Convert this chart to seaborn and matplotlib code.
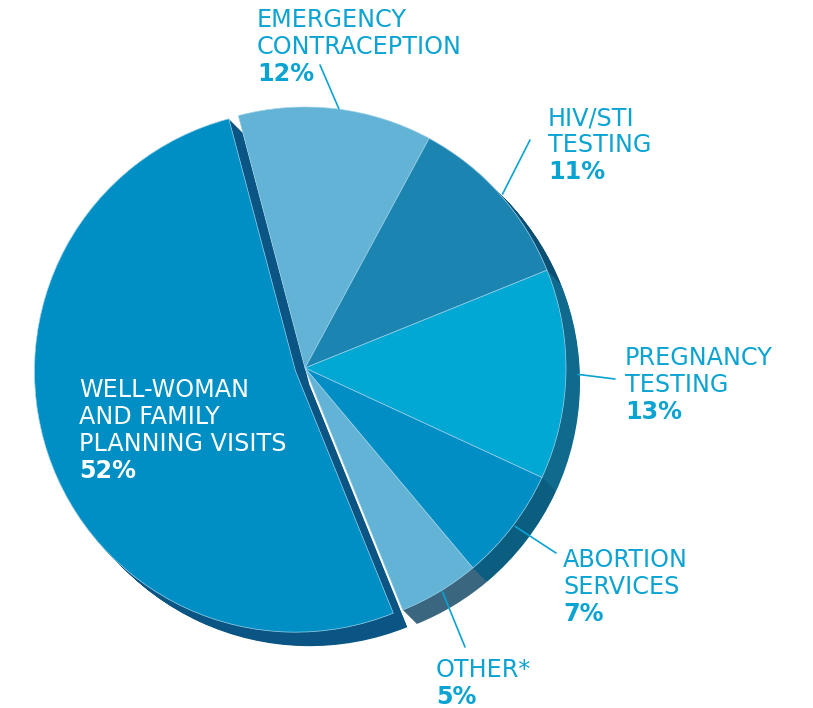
import numpy as np
import matplotlib
matplotlib.use("Agg")
import matplotlib.pyplot as plt
import seaborn as sns

# data (clockwise from the top, well-woman last)
labels = ["EMERGENCY\nCONTRACEPTION", "HIV/STI\nTESTING", "PREGNANCY\nTESTING",
          "ABORTION\nSERVICES", "OTHER*", "WELL-WOMAN\nAND FAMILY\nPLANNING VISITS"]
values = [12, 11, 13, 7, 5, 52]

face_colors = ["#62b3d6", "#1b84b0", "#00a8d3", "#008ec4", "#62b3d6", "#008fc5"]
side_colors = ["#1d6f96", "#0b4f75", "#0f6a8e", "#0b5e80", "#3a6680", "#0a5583"]
text_color = "#0aa3d2"

# label anchors (pixel coords: left x, first baseline y) and leader end points
label_pos = [(257, 27), (548, 125), (625, 365), (563, 567), (436, 677), (79, 397)]
leader_end = [(320, 65), (530, 140), (615, 379), (556, 553), (465, 647), None]

W, H = 813, 708
cx, cy = 305, H - 368
radius = 261
start = 104.8
explode = [0, 0, 0, 0, 0, 10]
depth = (14, -14)
n_layers = 24

sns.set_theme(style="white")
plt.rcParams['font.family'] = ['DejaVu Sans']

fig = plt.figure(figsize=(W / 100, H / 100), dpi=100)
ax = fig.add_axes([0, 0, 1, 1])

# extruded side of the pie
for k in range(n_layers, 0, -1):
    ox = depth[0] * k / n_layers
    oy = depth[1] * k / n_layers
    ax.pie(values, startangle=start, counterclock=False, radius=radius,
           center=(cx + ox, cy + oy), explode=explode, colors=side_colors,
           wedgeprops=dict(linewidth=0))

# top face
ax.pie(values, startangle=start, counterclock=False, radius=radius,
       center=(cx, cy), explode=explode, colors=face_colors,
       wedgeprops=dict(linewidth=0.5, edgecolor="#9fd3ea"))

# labels
total = sum(values)
ang = start
for lab, v, pos, end in zip(labels, values, label_pos, leader_end):
    span = 360 * v / total
    mid = np.deg2rad(ang - span / 2)
    ang -= span
    color = "white" if end is None else text_color
    lines = lab.split("\n")
    x0, y0 = pos
    for i, line in enumerate(lines):
        ax.text(x0, H - (y0 + 27 * i), line, color=color, fontsize=17.2,
                ha="left", va="baseline")
    ax.text(x0, H - (y0 + 27 * len(lines)), f"{v}%", color=color, fontsize=17.2,
            fontweight="bold", ha="left", va="baseline")
    if end is not None:
        sx = cx + radius * np.cos(mid) + (depth[0] - 2 if np.cos(mid) > 0.9 else 3)
        sy = cy + radius * np.sin(mid)
        ax.plot([sx, end[0]], [sy, H - end[1]], color=text_color, lw=1.2)

ax.set_xlim(0, W)
ax.set_ylim(0, H)
ax.set_aspect("equal")
ax.axis("off")
fig.savefig("out.png", dpi=100, facecolor="white")
